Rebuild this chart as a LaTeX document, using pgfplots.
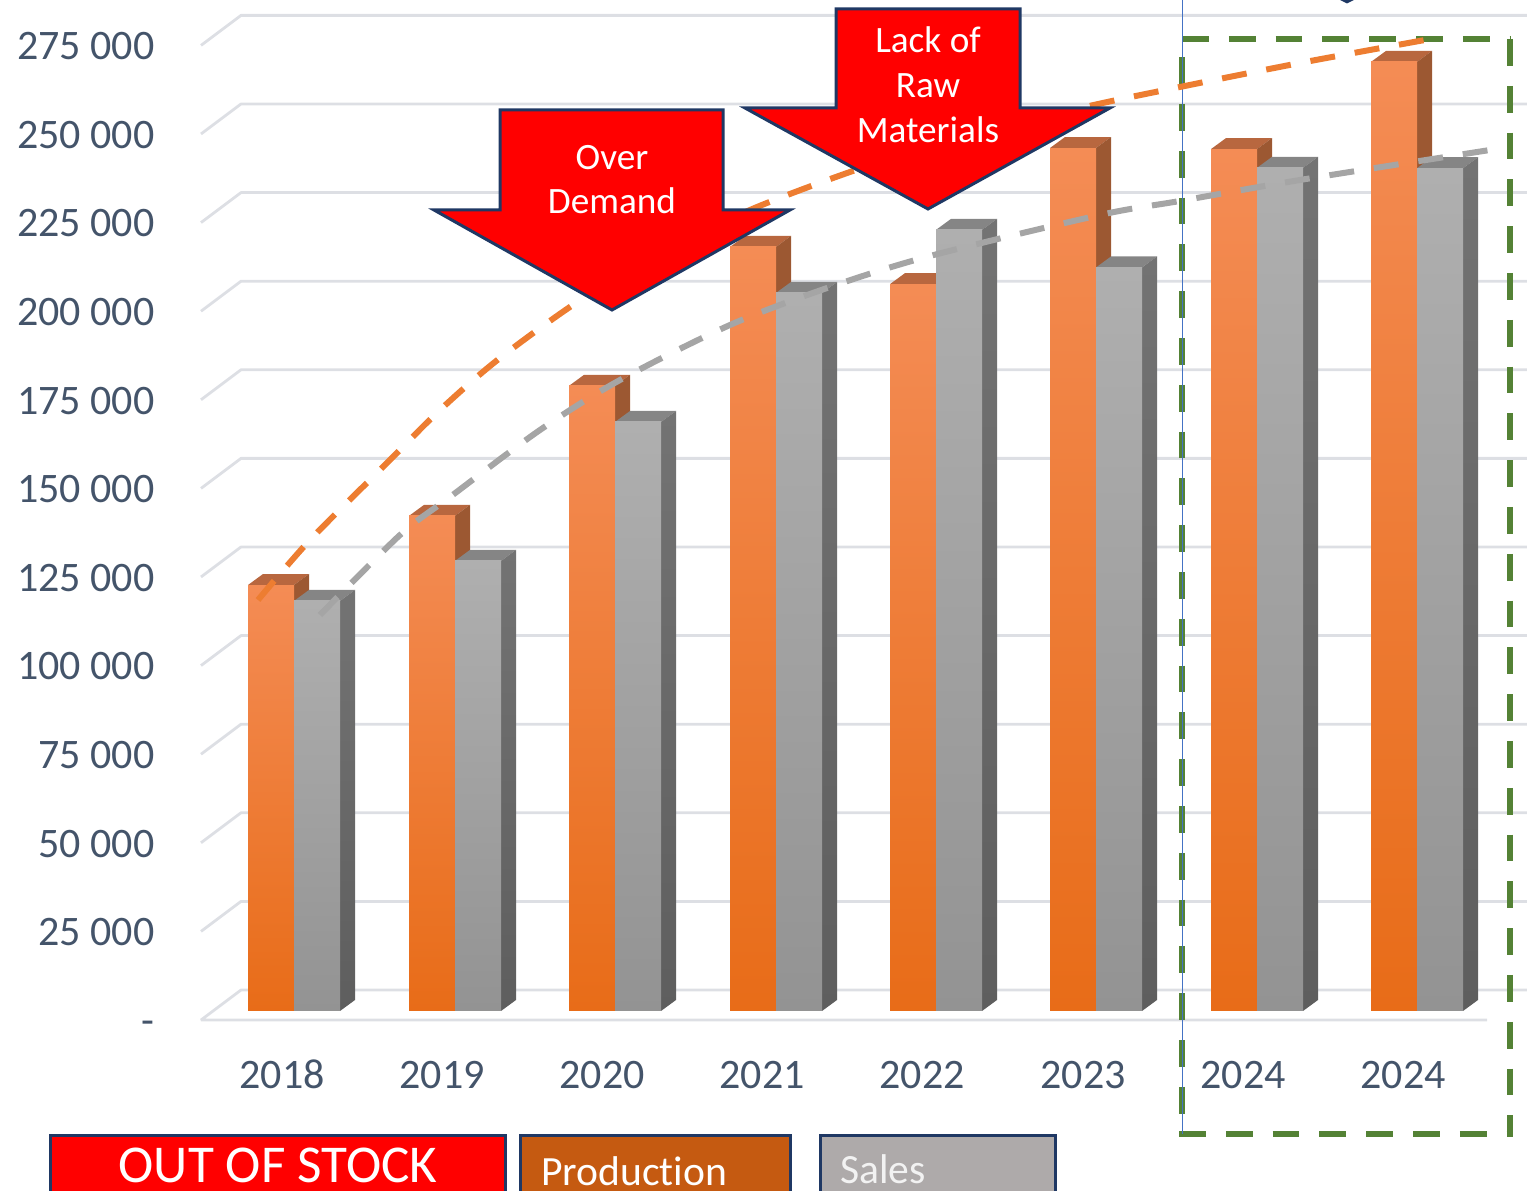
\documentclass[border=0pt]{standalone}
\usepackage{fontspec}
\setmainfont[Ligatures=NoCommon]{Carlito}
\usepackage{pgfplots}
\pgfplotsset{compat=1.18}
\definecolor{tickc}{HTML}{44546A}
\definecolor{gridc}{HTML}{DDDFE4}
\definecolor{navy}{HTML}{1F3864}
\definecolor{ogreen}{HTML}{548235}
\definecolor{oline}{HTML}{ED7D31}
\definecolor{gline}{HTML}{A5A5A5}
\definecolor{oT}{HTML}{F48C55}
\definecolor{oM}{HTML}{F77F2B}
\definecolor{oB}{HTML}{E86C18}
\definecolor{gT}{HTML}{AFAFAF}
\definecolor{gM}{HTML}{A6A6A6}
\definecolor{gB}{HTML}{939393}
\definecolor{oTop}{HTML}{B8673F}
\definecolor{oSide}{HTML}{9C5832}
\definecolor{gTop}{HTML}{858585}
\definecolor{gSideT}{HTML}{737373}
\definecolor{gSideB}{HTML}{5E5E5E}
\definecolor{boxO}{HTML}{C55A11}
\definecolor{boxG}{HTML}{AEAAAA}
\definecolor{blueL}{HTML}{4472C4}
% depth of the 3-D look: 15 px across, 11 px up (= 3104 value units)
\newcommand\gl[2]{\addplot[gridc,line width=1.4pt,line join=bevel] coordinates {(201,#1)(241,#2)(1527,#2)};}
\newcommand\faces[5]{% x left, value, top colour, side top, side bottom
 \edef\tmp{\noexpand\addplot[draw=none,fill=#3] coordinates {(#1,#2)(\the\numexpr#1+46\relax,#2)(\the\numexpr#1+61\relax,\the\numexpr#2+3104\relax)(\the\numexpr#1+15\relax,\the\numexpr#2+3104\relax)} --cycle;
 \noexpand\addplot[draw=none,top color=#4,bottom color=#5] coordinates {(\the\numexpr#1+46\relax,0)(\the\numexpr#1+61\relax,3104)(\the\numexpr#1+61\relax,\the\numexpr#2+3104\relax)(\the\numexpr#1+46\relax,#2)} --cycle;}\tmp}
\newcommand\frontO[2]{\addplot[ybar,bar width=23pt,bar shift=0pt,draw=none,top color=oT,middle color=oM,bottom color=oB] coordinates {(#1,#2)};}
\newcommand\frontG[2]{\addplot[ybar,bar width=23pt,bar shift=0pt,draw=none,top color=gT,middle color=gM,bottom color=gB] coordinates {(#1,#2)};}
\pgfplotsset{overlay axis/.style={at={(0,0)},anchor=south west,scale only axis,width=763.5pt,height=595pt,
 xmin=0,xmax=1527,ymin=-50508,ymax=285271,hide axis,clip=false}}
\begin{document}
\begin{tikzpicture}
\useasboundingbox (0,0) rectangle (763.5pt,595pt);
\clip (0,0) rectangle (763.5pt,595pt);
% axis with walls, grid and tick labels
\begin{axis}[at={(80pt,75pt)},anchor=south west,scale only axis,width=683.5pt,height=520pt,
 xmin=160,xmax=1527,ymin=-5643,ymax=287810,clip=false,
 axis line style={draw=none},tick style={draw=none},
 scaled y ticks=false,
 ytick={0,25000,50000,75000,100000,125000,150000,175000,200000,225000,250000,275000},
 yticklabels={-,25~000,50~000,75~000,100~000,125~000,150~000,175~000,200~000,225~000,250~000,275~000},
 xtick={282,442,602,762,922,1083,1243,1403},
 xticklabels={2018,2019,2020,2021,2022,2023,2024,2024},
 ticklabel style={font=\fontsize{21}{24}\selectfont,text=tickc,inner sep=0pt,text height=0.63em,text depth=0pt},
 yticklabel style={anchor=east,xshift=-2.6pt,yshift=-4pt},
 xticklabel style={anchor=north,yshift=-17.5pt},
]
\addplot[gridc,line width=1.4pt,line join=bevel] coordinates {(1487,0)(201,0)(241,8465)(1527,8465)};
\gl{25000}{33465}\gl{50000}{58465}\gl{75000}{83465}\gl{100000}{108465}
\gl{125000}{133465}\gl{150000}{158465}\gl{175000}{183465}\gl{200000}{208465}
\gl{225000}{233465}\gl{250000}{258465}\gl{275000}{283465}
\end{axis}
% bars
\begin{axis}[overlay axis]
\faces{248}{120200}{oTop}{oSide}{oSide}\faces{409}{139700}{oTop}{oSide}{oSide}
\faces{569}{176400}{oTop}{oSide}{oSide}\faces{730}{215600}{oTop}{oSide}{oSide}
\faces{890}{205100}{oTop}{oSide}{oSide}\faces{1050}{243500}{oTop}{oSide}{oSide}
\faces{1211}{243200}{oTop}{oSide}{oSide}\faces{1371}{267800}{oTop}{oSide}{oSide}
\faces{294}{115700}{gTop}{gSideT}{gSideB}\faces{455}{127000}{gTop}{gSideT}{gSideB}
\faces{615}{166200}{gTop}{gSideT}{gSideB}\faces{776}{202600}{gTop}{gSideT}{gSideB}
\faces{936}{220400}{gTop}{gSideT}{gSideB}\faces{1096}{209800}{gTop}{gSideT}{gSideB}
\faces{1257}{237900}{gTop}{gSideT}{gSideB}\faces{1417}{237800}{gTop}{gSideT}{gSideB}
\frontO{271}{120200}\frontO{432}{139700}\frontO{592}{176400}\frontO{753}{215600}
\frontO{913}{205100}\frontO{1073}{243500}\frontO{1234}{243200}\frontO{1394}{267800}
\frontG{317}{115700}\frontG{478}{127000}\frontG{638}{166200}\frontG{799}{202600}
\frontG{959}{220400}\frontG{1119}{209800}\frontG{1280}{237900}\frontG{1440}{237800}
\end{axis}
% forecast frame
\begin{scope}[x=0.5pt,y=-0.5pt,shift={(0pt,595pt)}]
\begin{scope}[draw=ogreen,line width=3pt,dash pattern=on 13.4pt off 10pt]
\draw (1182,39)--(1510,39);
\draw (1510,39)--(1510,1137);
\draw (1179,1134)--(1510,1134);
\draw (1182,57.3)--(1182,1134);
\end{scope}
\draw[blueL,line width=0.5pt] (1182,0)--(1182,1134);
\fill[navy] (1340,0)--(1347,3.5)--(1354,0)--cycle;
\end{scope}
% trend lines
\begin{axis}[overlay axis]
\addplot[oline,line width=3pt,smooth,dash pattern=on 12.5pt off 10pt] coordinates {
(258,115972)(310,132902)(385,154065)(440,169584)(500,184257)(585,201469)(670,214731)(750,226018)(850,236741)(950,245770)(1085,255080)(1180,260725)(1300,267497)(1425,273987)};
\addplot[gline,line width=3pt,smooth,dash pattern=on 12.5pt off 10pt] coordinates {
(320,111739)(400,134313)(450,145035)(540,163941)(620,178049)(730,193569)(830,204291)(930,213038)(1100,224607)(1180,228558)(1300,234483)(1490,242948)};
\end{axis}
% annotations
\begin{scope}[x=0.5pt,y=-0.5pt,shift={(0pt,595pt)}]
\begin{scope}[draw=navy,fill=red,line width=1.5pt,miter limit=10]
\filldraw (500,110)--(723,110)--(723,210)--(790,210)--(612,310)--(434,210)--(500,210)--cycle;
\filldraw (836,9)--(1020,9)--(1020,108)--(1110,108)--(928,209)--(745,108)--(836,108)--cycle;
\filldraw (50,1135) rectangle (505,1205);
\end{scope}
\filldraw[draw=navy,fill=boxO,line width=1.5pt] (520,1135) rectangle (790,1205);
\filldraw[draw=navy,fill=boxG,line width=1.5pt] (820,1135) rectangle (1055,1205);
\begin{scope}[every node/.style={text=white,inner sep=0pt,font=\fontsize{18.6}{20}\selectfont}]
\node[anchor=base] at (612,170) {Over};
\node[anchor=base] at (612,214) {Demand};
\node[anchor=base] at (928,53) {Lack of};
\node[anchor=base] at (928,98) {Raw};
\node[anchor=base] at (928,143) {Materials};
\node[anchor=base,font=\fontsize{26.6}{30}\selectfont] at (278,1182) {OUT OF STOCK};
\node[anchor=base west,font=\fontsize{20.8}{24}\selectfont] at (541,1185) {Production};
\node[anchor=base west,font=\fontsize{20.8}{24}\selectfont,text=white!95!black] at (840,1183) {Sales};
\end{scope}
\end{scope}
\end{tikzpicture}
\end{document}
